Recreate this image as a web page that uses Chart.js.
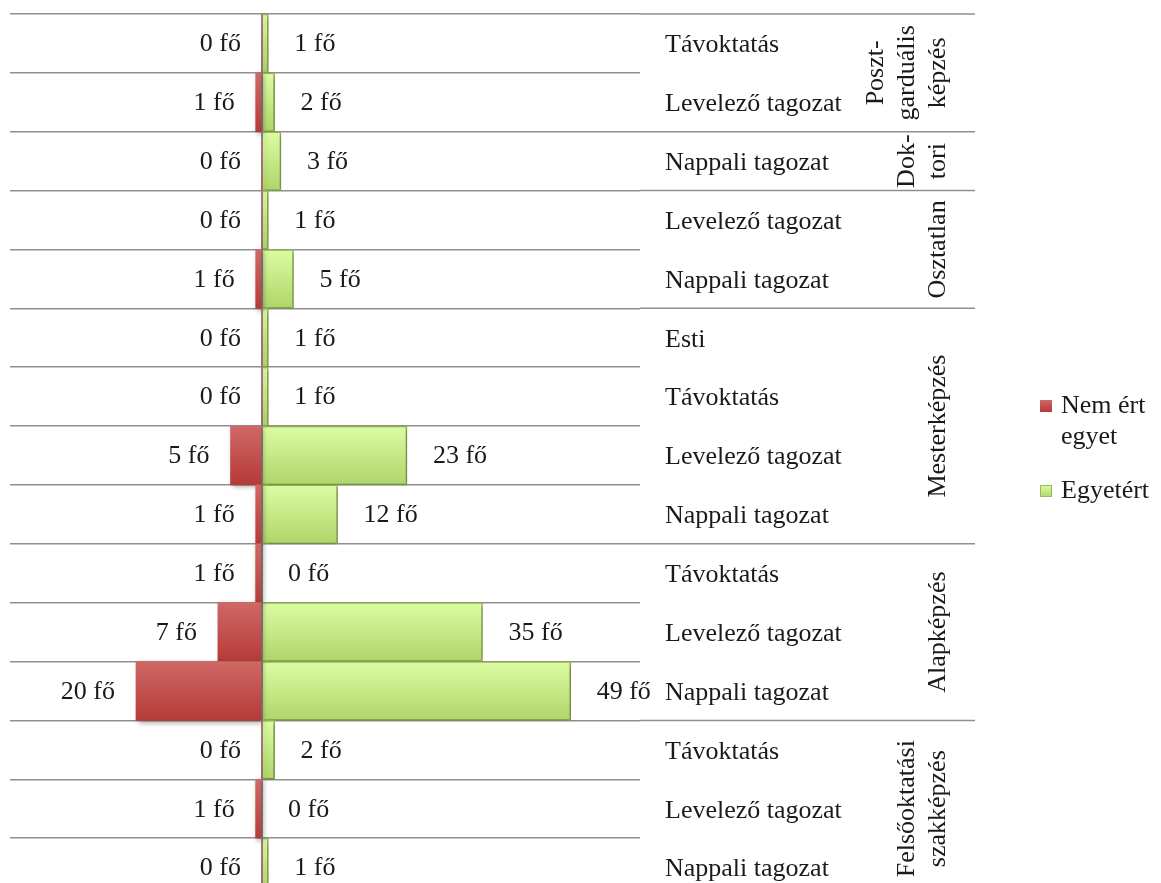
<!DOCTYPE html>
<html>
<head>
<meta charset="utf-8">
<script src="https://cdn.jsdelivr.net/npm/chart.js@4/dist/chart.umd.min.js"></script>
<style>
html,body{margin:0;padding:0;background:#fff;overflow:hidden;}
#wrap{width:1161px;height:897px;position:relative;}
</style>
</head>
<body>
<div id="wrap"><canvas id="c" width="1161" height="897"></canvas></div>
<script>
const categories = ['Távoktatás','Levelező tagozat','Nappali tagozat','Levelező tagozat','Nappali tagozat','Esti','Távoktatás','Levelező tagozat','Nappali tagozat','Távoktatás','Levelező tagozat','Nappali tagozat','Távoktatás','Levelező tagozat','Nappali tagozat'];
const nemErtEgyet = [0,1,0,0,1,0,0,5,1,1,7,20,0,1,0];
const egyetert = [1,2,3,1,5,1,1,23,12,0,35,49,2,0,1];
const seriesNames = ['Nem ért egyet','Egyetért'];
const groupLabels = [['Poszt-','garduális','képzés'],['Dok-','tori'],['Osztatlan'],['Mesterképzés'],['Alapképzés'],['Felsőoktatási','szakképzés']];
const groupFirst = [0,2,3,5,9,12];
const groupLast = [1,2,4,8,11,14];
const unit = ' fő';

const FONT = "'Liberation Serif', serif";
const FS = 26;
Chart.defaults.font.family = FONT;
Chart.defaults.font.size = FS;
Chart.defaults.color = '#1a1a1a';

function barFill(colors){
  return function(ctx){
    const y = ctx.chart.scales && ctx.chart.scales.y;
    if(!y || ctx.dataIndex === undefined) return colors[1];
    const p0 = y.getPixelForValue(ctx.dataIndex);
    const h = Math.abs(y.getPixelForValue(1) - y.getPixelForValue(0));
    if(!isFinite(p0) || !isFinite(h) || h <= 0) return colors[1];
    const c = ctx.chart.ctx;
    const g = c.createLinearGradient(0, p0 - h/2, 0, p0 + h/2);
    g.addColorStop(0, colors[0]);
    g.addColorStop(1, colors[1]);
    return g;
  };
}

const shadowPlugin = {
  id:'shadow',
  beforeDatasetsDraw(chart){
    const c = chart.ctx; c.save();
    c.shadowColor = 'rgba(0,0,0,0.35)';
    c.shadowBlur = 5; c.shadowOffsetX = 2; c.shadowOffsetY = 2;
  },
  afterDatasetsDraw(chart){ chart.ctx.restore(); }
};

const labelPlugin = {
  id:'labels',
  afterDatasetsDraw(chart){
    const c = chart.ctx, x = chart.scales.x, y = chart.scales.y;
    c.save();
    c.font = FS + 'px ' + FONT;
    c.fillStyle = '#1a1a1a';
    c.textBaseline = 'middle';
    nemErtEgyet.forEach((v,i)=>{
      c.textAlign = 'right';
      c.fillText(v + unit, x.getPixelForValue(-v) - 21, y.getPixelForValue(i) + 1);
    });
    egyetert.forEach((v,i)=>{
      c.textAlign = 'left';
      c.fillText(v + unit, x.getPixelForValue(v) + 26, y.getPixelForValue(i) + 1);
    });
    c.restore();
  }
};

const groupPlugin = {
  id:'groups',
  afterDraw(chart){
    const c = chart.ctx, y = chart.scales.y, area = chart.chartArea;
    c.save();
    c.strokeStyle = '#8f8f8f';
    c.lineWidth = 1.5;
    const bounds = [groupFirst[0] - 0.5].concat(groupLast.map(v=>v+0.5));
    bounds.forEach(b=>{
      const py = y.getPixelForValue(b);
      c.beginPath(); c.moveTo(area.right, py); c.lineTo(975, py); c.stroke();
    });
    c.font = FS + 'px ' + FONT;
    c.fillStyle = '#1a1a1a';
    c.textAlign = 'center';
    c.textBaseline = 'middle';
    const lastX = 938, lh = 31;
    groupLabels.forEach((lines,gi)=>{
      const cy = (y.getPixelForValue(groupFirst[gi] - 0.5) + y.getPixelForValue(groupLast[gi] + 0.5)) / 2;
      lines.forEach((t,li)=>{
        const cx = lastX - (lines.length - 1 - li) * lh;
        c.save();
        c.translate(cx, cy);
        c.rotate(-Math.PI/2);
        c.fillText(t, 0, 0);
        c.restore();
      });
    });
    const items = [
      {lines:['Nem ért','egyet'], fill:['#cf6866','#b53a37'], border:null, y:406},
      {lines:['Egyetért'], fill:['#dcfca2','#b2d86c'], border:'#9bbb59', y:491}
    ];
    items.forEach(it=>{
      const g = c.createLinearGradient(0, it.y-6, 0, it.y+6);
      g.addColorStop(0, it.fill[0]); g.addColorStop(1, it.fill[1]);
      c.fillStyle = g;
      c.fillRect(1040, it.y-6, 12, 12);
      if(it.border){ c.strokeStyle = it.border; c.lineWidth = 1; c.strokeRect(1040.5, it.y-5.5, 11, 11); }
      c.fillStyle = '#1a1a1a';
      c.textAlign = 'left';
      c.textBaseline = 'alphabetic';
      it.lines.forEach((t,li)=>{ c.fillText(t, 1061, it.y + 7 + li*31); });
    });
    c.restore();
  }
};

const chart = new Chart(document.getElementById('c'), {
  type:'bar',
  data:{
    labels: categories,
    datasets:[
      {label: seriesNames[0], data: nemErtEgyet.map(v=>-v),
       backgroundColor: barFill(['#cf6866','#b53a37']), borderWidth:0},
      {label: seriesNames[1], data: egyetert,
       backgroundColor: barFill(['#dcfca2','#afd569']),
       borderColor:'#9bbb59',
       borderWidth: ctx => (ctx.raw ? 1.5 : 0)}
    ]
  },
  options:{
    indexAxis:'y',
    responsive:false,
    animation:false,
    devicePixelRatio:1,
    layout:{padding:{top:14,left:10,right:0,bottom:0}},
    barPercentage:1,
    categoryPercentage:1,
    plugins:{legend:{display:false}, tooltip:{enabled:false}},
    scales:{
      x:{
        stacked:true, min:-40, max:60,
        ticks:{display:false, stepSize:10},
        border:{display:false},
        grid:{drawTicks:false, lineWidth:2, color: ctx => (ctx.tick && ctx.tick.value === 0 ? '#8c8c8c' : 'rgba(0,0,0,0)')},
        afterFit: s => { s.height = 0; s.paddingLeft = 0; s.paddingRight = 0; s.paddingTop = 0; s.paddingBottom = 0; }
      },
      y:{
        stacked:true, position:'right',
        border:{display:false},
        grid:{offset:true, drawTicks:false, color:'#8f8f8f', lineWidth:1.5},
        ticks:{padding:25, labelOffset:2, color:'#1a1a1a', font:{size:FS}},
        afterFit: s => { s.width = 521; s.paddingTop = 0; s.paddingBottom = 0; s.paddingLeft = 0; s.paddingRight = 0; }
      }
    }
  },
  plugins:[shadowPlugin, labelPlugin, groupPlugin]
});
chart.update();
</script>
</body>
</html>
